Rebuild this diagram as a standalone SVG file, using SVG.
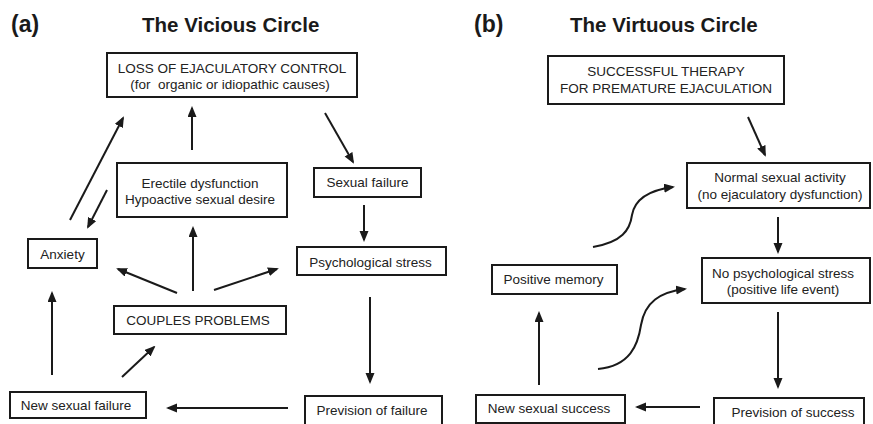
<svg xmlns="http://www.w3.org/2000/svg" width="873" height="424" viewBox="0 0 873 424">
  <style>
    .box { fill: #fff; stroke: #1a1a1a; stroke-width: 2; }
    .t { font-family: "Liberation Sans", Arial, sans-serif; font-size: 13.5px; fill: #222; text-anchor: middle; }
    .title { font-family: "Liberation Sans", Arial, sans-serif; font-size: 20.5px; font-weight: bold; fill: #1a1a1a; }
    .tag { font-family: "Liberation Sans", Arial, sans-serif; font-size: 23px; font-weight: bold; fill: #1a1a1a; }
    .c { fill: none; stroke: #1a1a1a; stroke-width: 2; marker-end: url(#ah); }
  </style>
  <defs>
    <marker id="ah" markerUnits="userSpaceOnUse" markerWidth="11" markerHeight="10" refX="9" refY="4.5" orient="auto">
      <path d="M0,0 L11,4.5 L0,9 z" fill="#1a1a1a"/>
    </marker>
  </defs>

  <rect width="873" height="424" fill="#fff"/>

  <!-- panel headings -->
  <text class="tag" x="11" y="32">(a)</text>
  <text class="title" x="142" y="32">The Vicious Circle</text>
  <text class="tag" x="474" y="32">(b)</text>
  <text class="title" x="570" y="32">The Virtuous Circle</text>

  <!-- connectors -->
  <g id="connectors">
    <!-- vicious circle -->
    <line class="c" x1="192" y1="150" x2="192" y2="108"/>
    <line class="c" x1="70" y1="220" x2="123" y2="118"/>
    <line class="c" x1="107" y1="190" x2="88" y2="227"/>
    <line class="c" x1="325" y1="113" x2="353" y2="162"/>
    <line class="c" x1="364" y1="205" x2="364" y2="240"/>
    <line class="c" x1="177" y1="293" x2="118" y2="269"/>
    <line class="c" x1="193" y1="291" x2="193" y2="228"/>
    <line class="c" x1="214" y1="290" x2="277" y2="269"/>
    <line class="c" x1="52" y1="375" x2="52" y2="293"/>
    <line class="c" x1="122" y1="377" x2="154" y2="347"/>
    <line class="c" x1="370" y1="297" x2="370" y2="382"/>
    <line class="c" x1="288" y1="408" x2="168" y2="408"/>
    <!-- virtuous circle -->
    <line class="c" x1="748" y1="117" x2="765" y2="155"/>
    <line class="c" x1="778" y1="217" x2="778" y2="252"/>
    <line class="c" x1="778" y1="312" x2="778" y2="387"/>
    <line class="c" x1="700" y1="407" x2="637" y2="407"/>
    <line class="c" x1="539" y1="385" x2="539" y2="313"/>
    <path class="c" d="M593,247 C622,242 630,230 632,215 C635,198 650,190 673,187"/>
    <path class="c" d="M598,369 C630,366 638,345 641,325 C645,302 660,292 685,289"/>
  </g>

  <!-- vicious circle nodes -->
  <g id="loss-control">
    <rect class="box" x="107" y="53" width="250" height="44"/>
    <text class="t" x="232" y="73">LOSS OF EJACULATORY CONTROL</text>
    <text class="t" x="230" y="89" style="white-space:pre">(for  organic or idiopathic causes)</text>
  </g>
  <g id="erectile">
    <rect class="box" x="117" y="163" width="170" height="54"/>
    <text class="t" x="200" y="188">Erectile dysfunction</text>
    <text class="t" x="200" y="204">Hypoactive sexual desire</text>
  </g>
  <g id="sexual-failure">
    <rect class="box" x="314" y="168" width="107" height="29"/>
    <text class="t" x="367.5" y="187">Sexual failure</text>
  </g>
  <g id="anxiety">
    <rect class="box" x="28" y="239" width="69" height="29"/>
    <text class="t" x="62.5" y="259">Anxiety</text>
  </g>
  <g id="psych-stress">
    <rect class="box" x="297" y="247" width="149" height="28"/>
    <text class="t" x="370.5" y="267">Psychological stress</text>
  </g>
  <g id="couples">
    <rect class="box" x="114" y="306" width="172" height="28"/>
    <text class="t" x="198" y="325">COUPLES PROBLEMS</text>
  </g>
  <g id="new-failure">
    <rect class="box" x="10" y="392" width="136" height="26"/>
    <text class="t" x="76" y="410">New sexual failure</text>
  </g>
  <g id="prevision-failure">
    <rect class="box" x="305" y="396" width="137" height="34"/>
    <text class="t" x="372" y="415">Prevision of failure</text>
  </g>

  <!-- virtuous circle nodes -->
  <g id="therapy">
    <rect class="box" x="548" y="56" width="236" height="48"/>
    <text class="t" x="666" y="76">SUCCESSFUL THERAPY</text>
    <text class="t" x="666" y="93">FOR PREMATURE EJACULATION</text>
  </g>
  <g id="normal-activity">
    <rect class="box" x="687" y="163" width="183" height="45"/>
    <text class="t" x="780" y="182">Normal sexual activity</text>
    <text class="t" x="780" y="199">(no ejaculatory dysfunction)</text>
  </g>
  <g id="positive-memory">
    <rect class="box" x="492" y="265" width="125" height="29"/>
    <text class="t" x="553.5" y="284">Positive memory</text>
  </g>
  <g id="no-stress">
    <rect class="box" x="702" y="258" width="168" height="45"/>
    <text class="t" x="783" y="278">No psychological stress</text>
    <text class="t" x="783" y="294">(positive life event)</text>
  </g>
  <g id="new-success">
    <rect class="box" x="476" y="395" width="149" height="28"/>
    <text class="t" x="549" y="413">New sexual success</text>
  </g>
  <g id="prevision-success">
    <rect class="box" x="714" y="398" width="150" height="32"/>
    <text class="t" x="793" y="417">Prevision of success</text>
  </g>
</svg>
